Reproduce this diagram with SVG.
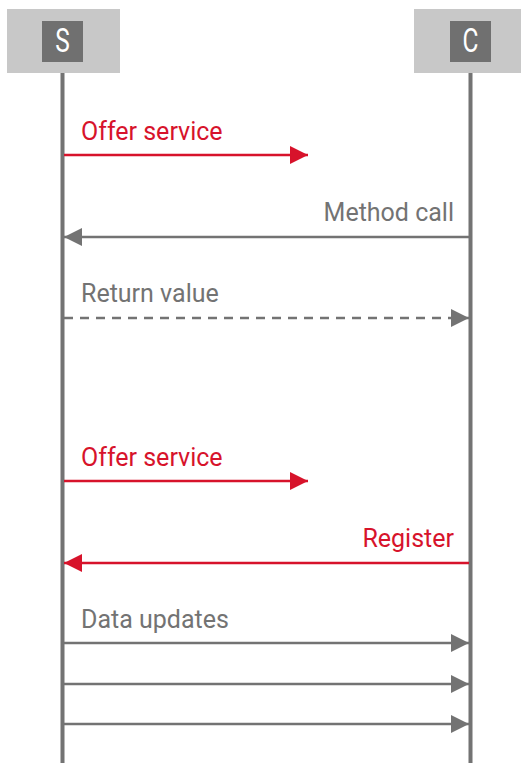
<svg xmlns="http://www.w3.org/2000/svg" width="521" height="763" viewBox="0 0 521 763">
<style>
.outer{fill:#c8c8c8}
.inner{fill:#707070}
.life{stroke:#737373;stroke-width:4}
.g{stroke:#737373;stroke-width:2.5;fill:none}
.r{stroke:#d7132b;stroke-width:2.5;fill:none}
.d{stroke-dasharray:9 7}
text{font-family:Roboto,"Liberation Sans",sans-serif;font-size:25px}
.tg{fill:#737373}
.tr{fill:#d7132b}
.tw{fill:#fff;font-size:34px}
</style>
<defs>
<marker id="ag" markerWidth="18" markerHeight="18" viewBox="0 0 18 18" refX="18" refY="9" orient="auto" markerUnits="userSpaceOnUse"><path d="M0,0 L18,9 L0,18 Z" fill="#737373"/></marker>
<marker id="ar" markerWidth="18" markerHeight="18" viewBox="0 0 18 18" refX="18" refY="9" orient="auto" markerUnits="userSpaceOnUse"><path d="M0,0 L18,9 L0,18 Z" fill="#d7132b"/></marker>
</defs>
<g id="lifelines">
<line class="life" x1="62.5" y1="73" x2="62.5" y2="763"/>
<line class="life" x1="470.5" y1="73" x2="470.5" y2="763"/>
</g>
<g id="node-S">
<rect class="outer" x="7" y="9" width="113" height="64"/>
<rect class="inner" x="42" y="21" width="41" height="41"/>
<text class="tw" transform="translate(62.5,52) scale(0.72,1)" text-anchor="middle">S</text>
</g>
<g id="node-C">
<rect class="outer" x="414" y="9" width="107" height="64"/>
<rect class="inner" x="450" y="21" width="41" height="41"/>
<text class="tw" transform="translate(470.5,52) scale(0.72,1)" text-anchor="middle">C</text>
</g>
<g id="connectors">
<line class="r" x1="64" y1="155" x2="308" y2="155" marker-end="url(#ar)"/>
<line class="g" x1="469" y1="237" x2="64" y2="237" marker-end="url(#ag)"/>
<line class="g d" x1="64" y1="318" x2="469" y2="318" marker-end="url(#ag)"/>
<line class="r" x1="64" y1="481" x2="308" y2="481" marker-end="url(#ar)"/>
<line class="r" x1="469" y1="563" x2="64" y2="563" marker-end="url(#ar)"/>
<line class="g" x1="64" y1="643" x2="469" y2="643" marker-end="url(#ag)"/>
<line class="g" x1="64" y1="684" x2="469" y2="684" marker-end="url(#ag)"/>
<line class="g" x1="64" y1="724" x2="469" y2="724" marker-end="url(#ag)"/>
</g>
<g id="labels">
<text class="tr" x="81" y="140">Offer service</text>
<text class="tg" x="454" y="221" text-anchor="end">Method call</text>
<text class="tg" x="81" y="302">Return value</text>
<text class="tr" x="81" y="466">Offer service</text>
<text class="tr" x="454" y="547" text-anchor="end">Register</text>
<text class="tg" x="81" y="628">Data updates</text>
</g>
</svg>
